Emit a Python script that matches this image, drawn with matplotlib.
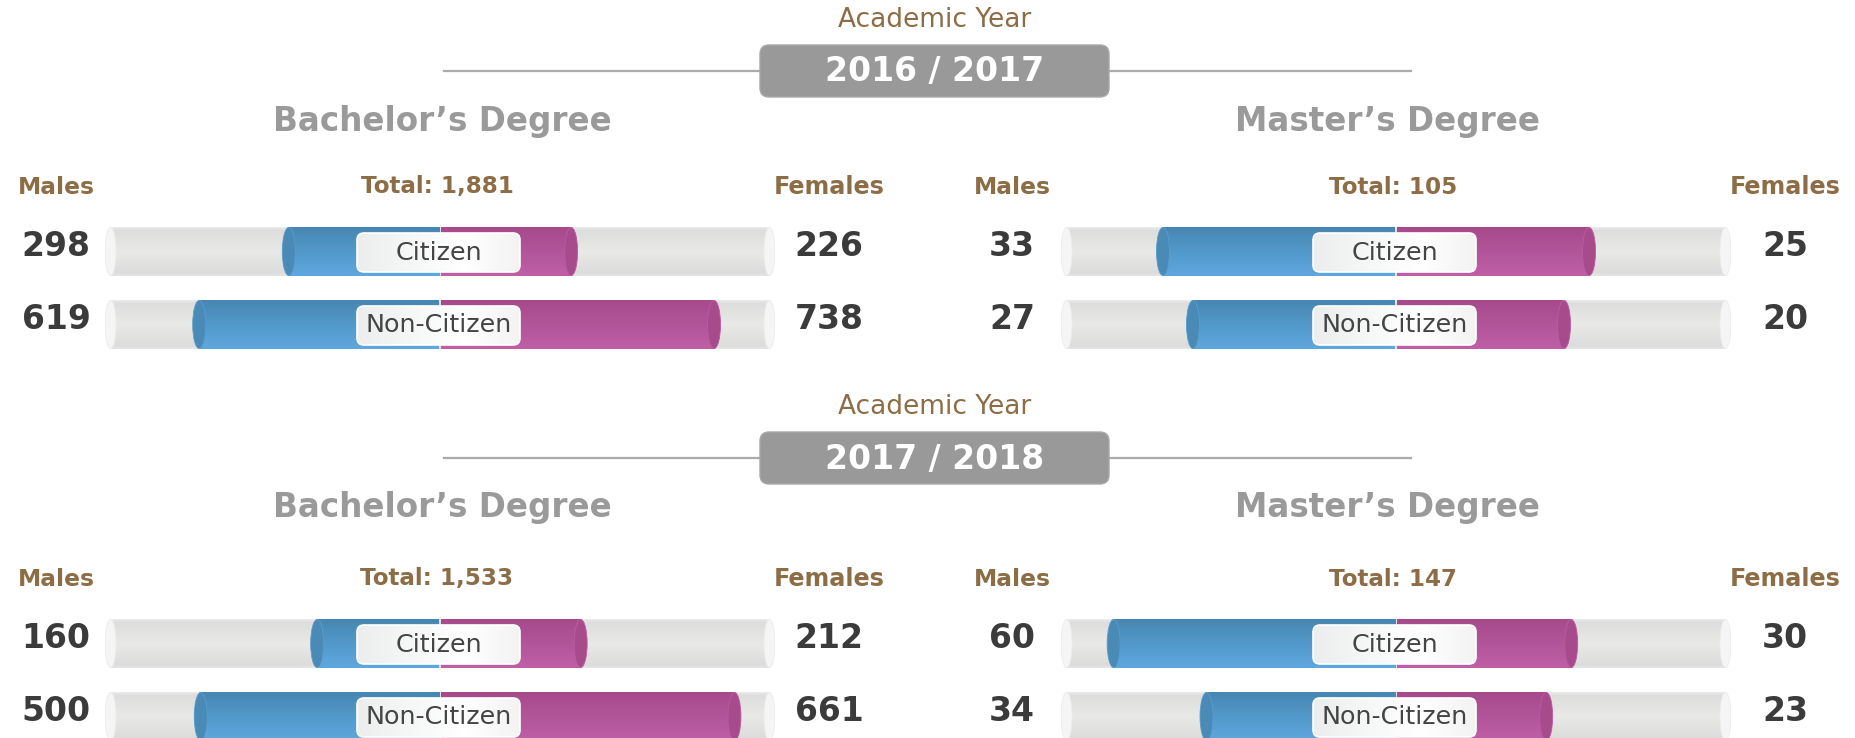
import numpy as np
import matplotlib
matplotlib.use("Agg")
import matplotlib.pyplot as plt
from matplotlib.patches import Ellipse, FancyBboxPatch
from matplotlib.colors import LinearSegmentedColormap

plt.rcParams['font.family'] = ['DejaVu Sans']

# ---------------------------------------------------------------- data
years = ["2016 / 2017", "2017 / 2018"]
degrees = ["Bachelor’s Degree", "Master’s Degree"]
groups = ["Citizen", "Non-Citizen"]

# enrolment counts, ordered like `groups`
bachelor_males_2016 = [298, 619]
bachelor_females_2016 = [226, 738]
master_males_2016 = [33, 27]
master_females_2016 = [25, 20]
bachelor_males_2017 = [160, 500]
bachelor_females_2017 = [212, 661]
master_males_2017 = [60, 34]
master_females_2017 = [30, 23]

panel_data = [
    [(bachelor_males_2016, bachelor_females_2016), (master_males_2016, master_females_2016)],
    [(bachelor_males_2017, bachelor_females_2017), (master_males_2017, master_females_2017)],
]

# ---------------------------------------------------------------- style
BROWN = '#8c6d46'
TITLE_GREY = '#9a9a9a'
VALUE_COLOR = '#3b3b3b'
LABEL_TEXT = '#444444'

track_cmap = LinearSegmentedColormap.from_list(
    'track', [(0, '#ececec'), (0.06, '#dddddd'), (0.5, '#e9e9e7'), (0.94, '#dcdcdc'), (1, '#e6e6e6')])
blue_cmap = LinearSegmentedColormap.from_list('blue', ['#4886b2', '#5299cb', '#5fa8df'])
pink_cmap = LinearSegmentedColormap.from_list('pink', ['#a64a8c', '#b2559a', '#c05fa7'])
label_cmap = LinearSegmentedColormap.from_list('label', ['#eceeee', '#f6f7f7', '#ffffff', '#f3f3f3'])
vgrad = np.linspace(0, 1, 128).reshape(-1, 1)
hgrad = np.linspace(0, 1, 128).reshape(1, -1)

W, H, DPI = 1856, 738, 100
PX_PER_UNIT = 5.25   # pixels per percentage point of a panel total
GAP = 14.2           # share units hidden under the centre label
HALF = 63.8          # half-length of a track, in share units
ROW_STEP = 73        # pixels between the two rows of a panel
TRACK_H = 0.66       # track thickness in row units
CAP_W = 13 / PX_PER_UNIT
TRACK_CAP_W = 11 / PX_PER_UNIT

header_offsets = [0, 387]
first_row_y = [251.5, 643.5]
centres = [440, 1396]
male_x = [56, 1012]
female_x = [829, 1785]
title_x = [442, 1388]

fig = plt.figure(figsize=(W / DPI, H / DPI), dpi=DPI)
fig.patch.set_facecolor('white')

bg = fig.add_axes([0, 0, 1, 1])
bg.set_xlim(0, W)
bg.set_ylim(H, 0)
bg.axis('off')


def gradient_rect(ax, x0, x1, yc, h, cmap, z):
    ax.imshow(vgrad, extent=(x0, x1, yc + h / 2, yc - h / 2), cmap=cmap,
              aspect='auto', interpolation='bilinear', zorder=z)


def panel_axes(cx, row0):
    left = cx - HALF * PX_PER_UNIT
    width = 2 * HALF * PX_PER_UNIT
    top = row0 - ROW_STEP / 2
    height = 2 * ROW_STEP
    ax = fig.add_axes([left / W, 1 - (top + height) / H, width / W, height / H])
    ax.patch.set_alpha(0)
    return ax


label_boxes = []

for s, year in enumerate(years):
    off = header_offsets[s]
    # section header
    bg.text(935, 20 + off, "Academic Year", color=BROWN, fontsize=19,
            ha='center', va='center')
    bg.plot([444, 1411], [71 + off, 71 + off], color='#ababab', lw=1.6, zorder=1)
    bg.add_patch(FancyBboxPatch((760, 45 + off), 349, 52,
                                boxstyle='round,pad=0,rounding_size=9',
                                fc='#999999', ec='#a8a8a8', lw=1, zorder=2))
    bg.text(935, 72 + off, year, color='white', fontsize=23.8, fontweight='bold',
            ha='center', va='center', zorder=3)

    row0 = first_row_y[s]
    for p, degree in enumerate(degrees):
        males, females = panel_data[s][p]
        total = sum(males) + sum(females)
        cx = centres[p]

        bg.text(title_x[p], 121 + off, degree, color=TITLE_GREY, fontsize=23.5,
                fontweight='bold', ha='center', va='center')
        head_y = row0 - 64.5
        bg.text(male_x[p], head_y, "Males", color=BROWN, fontsize=16.8,
                fontweight='bold', ha='center', va='center')
        bg.text(cx - 3, head_y, f"Total: {total:,}", color=BROWN, fontsize=16.6,
                fontweight='bold', ha='center', va='center')
        bg.text(female_x[p], head_y, "Females", color=BROWN, fontsize=17.2,
                fontweight='bold', ha='center', va='center')

        ax = panel_axes(cx, row0)
        for i, (m, f) in enumerate(zip(males, females)):
            # grey cylinder track
            gradient_rect(ax, -HALF + TRACK_CAP_W / 2, HALF - TRACK_CAP_W / 2, i,
                          TRACK_H, track_cmap, 1)
            for xe in (-HALF + TRACK_CAP_W / 2, HALF - TRACK_CAP_W / 2):
                ax.add_patch(Ellipse((xe, i), TRACK_CAP_W, TRACK_H, fc='#f5f5f5',
                                     ec='#ececec', lw=0.6, zorder=1.5))

            left_end = -(GAP + 100 * m / total)
            right_end = GAP + 100 * f / total

            # males, growing left from the centre
            gradient_rect(ax, left_end + CAP_W / 2, -0.2, i, TRACK_H, blue_cmap, 2)
            ax.add_patch(Ellipse((left_end + CAP_W / 2, i), CAP_W, TRACK_H,
                                 fc='#4a8ab7', ec='#5a9ccc', lw=0.6, zorder=2.5))
            # females, growing right from the centre
            gradient_rect(ax, 0.2, right_end - CAP_W / 2, i, TRACK_H, pink_cmap, 2)
            ax.add_patch(Ellipse((right_end - CAP_W / 2, i), CAP_W, TRACK_H,
                                 fc='#a84b8d', ec='#bb5ba1', lw=0.6, zorder=2.5))

            ry = row0 + i * ROW_STEP
            bg.text(male_x[p], ry - 5, f"{m:,}", color=VALUE_COLOR, fontsize=23.8,
                    fontweight='bold', ha='center', va='center')
            bg.text(female_x[p], ry - 5, f"{f:,}", color=VALUE_COLOR, fontsize=23.8,
                    fontweight='bold', ha='center', va='center')
            label_boxes.append((cx - 1.5, ry + 1, groups[i]))

        ax.set_xlim(-HALF, HALF)
        ax.set_ylim(1.5, -0.5)
        ax.axis('off')

# centre labels sit above the bars
fg = fig.add_axes([0, 0, 1, 1])
fg.patch.set_alpha(0)
for xc, yc, text in label_boxes:
    bw, bh = 163, 39
    x0, y0 = xc - bw / 2, yc - bh / 2
    box = FancyBboxPatch((x0, y0), bw, bh, boxstyle='round,pad=0,rounding_size=7',
                         fc='none', ec='#ffffff', lw=1.2, zorder=3)
    im = fg.imshow(hgrad, extent=(x0, x0 + bw, y0 + bh, y0), cmap=label_cmap,
                   aspect='auto', interpolation='bilinear', zorder=2)
    fg.add_patch(box)
    im.set_clip_path(box)
    fg.text(xc, yc, text, color=LABEL_TEXT, fontsize=18.3, ha='center',
            va='center', zorder=4)
fg.set_xlim(0, W)
fg.set_ylim(H, 0)
fg.axis('off')

fig.savefig('out.png', dpi=DPI, facecolor='white')
